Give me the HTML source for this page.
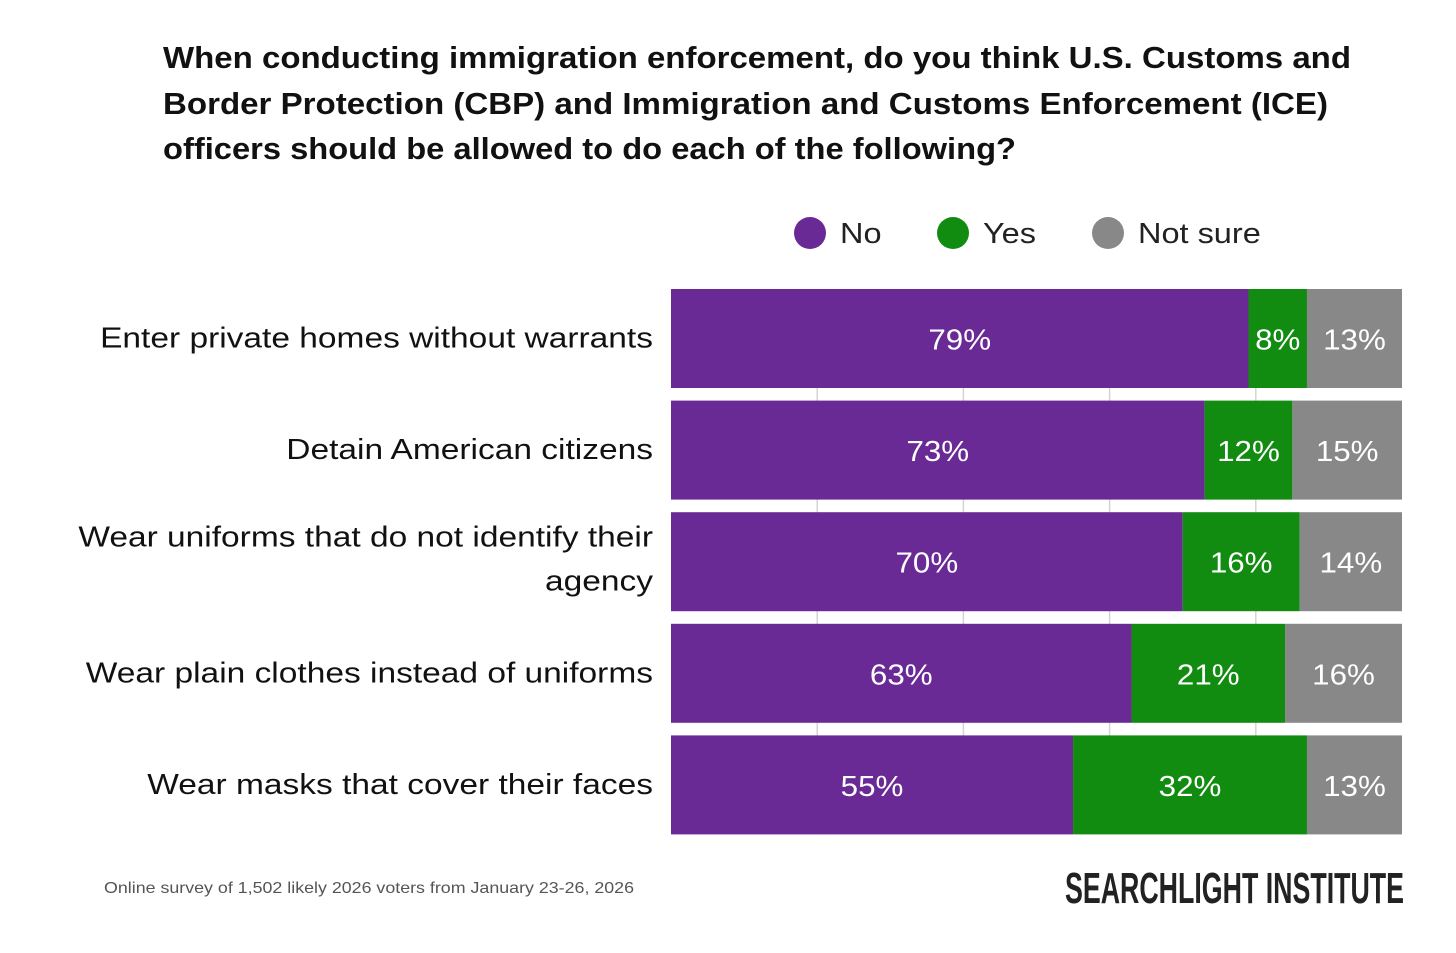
<!DOCTYPE html>
<html><head><meta charset="utf-8"><style>
html,body{margin:0;padding:0;background:#fff;}
svg{display:block;font-family:"Liberation Sans",sans-serif;}
</style></head><body>
<svg id="chart" width="1456" height="953" viewBox="0 0 1456 953">
<g font-weight="bold" font-size="31" fill="#111">
<text x="163" y="68" textLength="1188" lengthAdjust="spacingAndGlyphs">When conducting immigration enforcement, do you think U.S. Customs and</text>
<text x="163" y="114" textLength="1165" lengthAdjust="spacingAndGlyphs">Border Protection (CBP) and Immigration and Customs Enforcement (ICE)</text>
<text x="163" y="159" textLength="853" lengthAdjust="spacingAndGlyphs">officers should be allowed to do each of the following?</text>
</g>
<g id="legend" font-size="29" fill="#222"></g>
<g id="grid"></g>
<g id="bars"></g>
<g id="labels" font-size="29" fill="#111" text-anchor="end"></g>
<text x="104" y="893" font-size="16" fill="#555" textLength="530" lengthAdjust="spacingAndGlyphs">Online survey of 1,502 likely 2026 voters from January 23-26, 2026</text>
<text x="1065" y="903" font-size="44" font-weight="bold" fill="#222" textLength="339" lengthAdjust="spacingAndGlyphs">SEARCHLIGHT INSTITUTE</text>
</svg>
<script>
const categories=[["Enter private homes without warrants"],["Detain American citizens"],["Wear uniforms that do not identify their","agency"],["Wear plain clothes instead of uniforms"],["Wear masks that cover their faces"]];
const seriesNames=["No","Yes","Not sure"];
const noVals=[79,73,70,63,55];
const yesVals=[8,12,16,21,32];
const notSureVals=[13,15,14,16,13];
const gridTicks=[20,40,60,80];
const colors=["#6a2a96","#118c11","#888888"];
const NS="http://www.w3.org/2000/svg";
const x0=671,pw=731,y0=289,pitch=111.6,bh=99,widen=1.155;
const xs=v=>x0+v/100*pw;
const yRow=i=>y0+i*pitch;
function mk(tag,attrs,parent){const e=document.createElementNS(NS,tag);for(const k in attrs)e.setAttribute(k,attrs[k]);parent.appendChild(e);return e;}
function stretch(t,f){const w=t.getComputedTextLength();t.setAttribute('textLength',w*f);t.setAttribute('lengthAdjust','spacingAndGlyphs');}
const grid=document.getElementById('grid');
gridTicks.forEach(t=>{
 const l=mk('line',{x1:xs(t),x2:xs(t),y1:y0,y2:yRow(categories.length-1)+bh,stroke:'#d4d4d4','stroke-width':1.5},grid);
 
 
});
const bars=document.getElementById('bars');
const series=[noVals,yesVals,notSureVals];
categories.forEach((c,i)=>{
 let acc=0;
 series.forEach((s,j)=>{
  const v=s[i];
  const r=mk('rect',{x:xs(acc),y:yRow(i),width:xs(acc+v)-xs(acc),height:bh,fill:colors[j]},bars);
  
  
  const t=mk('text',{x:(xs(acc)+xs(acc+v))/2,y:yRow(i)+bh/2+11,'text-anchor':'middle','font-size':29,fill:'#fff'},bars);
  t.textContent=v+'%';
  
  
  stretch(t,1.08);
  acc+=v;
 });
 const lab=document.getElementById('labels');
 const n=c.length;
 c.forEach((line,k)=>{
  const t=mk('text',{x:653,y:yRow(i)+bh/2+10+(k-(n-1)/2)*44-(n>1?3:1)},lab);
  t.textContent=line;
  
  
  stretch(t,widen);
 });
});
const leg=document.getElementById('legend');
const lx=[810,953,1108];
seriesNames.forEach((s,j)=>{
 const g=mk('g',{},leg);
 
 
 mk('circle',{cx:lx[j],cy:233,r:16,fill:colors[j]},g);
 const t=mk('text',{x:lx[j]+30,y:243},g);t.textContent=s;
 stretch(t,1.12);
});
</script>
</body></html>
